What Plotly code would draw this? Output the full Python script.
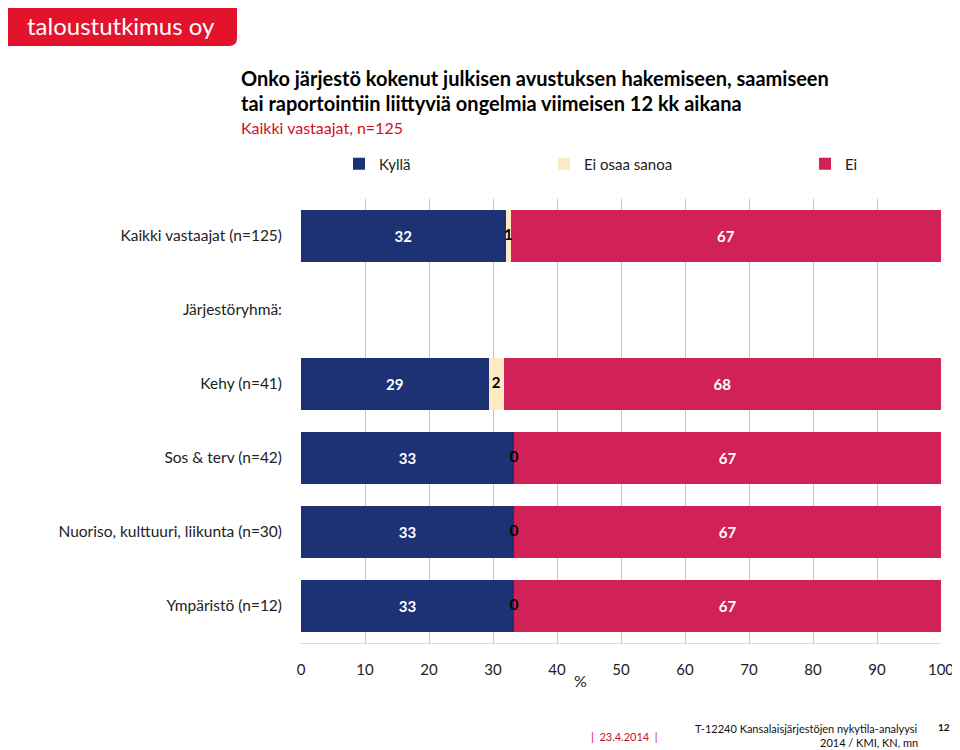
import plotly.graph_objects as go

categories = ["Kaikki vastaajat (n=125)", "Järjestöryhmä:", "Kehy (n=41)",
              "Sos & terv (n=42)", "Nuoriso, kulttuuri, liikunta (n=30)", "Ympäristö (n=12)"]
kylla = [32.0, None, 29.3, 33.3, 33.3, 33.3]
eos = [0.8, None, 2.4, 0.0, 0.0, 0.0]
ei = [67.2, None, 68.3, 66.7, 66.7, 66.7]
kylla_lbl = ["32", "", "29", "33", "33", "33"]
eos_lbl = ["1", "", "2", "0", "0", "0"]
ei_lbl = ["67", "", "68", "67", "67", "67"]
x_ticks = [0, 10, 20, 30, 40, 50, 60, 70, 80, 90, 100]

FONT = "Lato"
NAVY = "#1c3275"
CREAM = "#fcebc2"
CRIMSON = "#d02257"
RED = "#e3132b"

OFF = 8  # page body margin
W, H = 960 - OFF, 750 - OFF
# plot area in page pixels
L, R, T, B = 301, 941, 199, 643


def px(x):
    return (x - L) / (R - L)


def py(y):
    return (B - y) / (B - T)


fig = go.Figure()
fig.add_trace(go.Bar(y=categories, x=kylla, orientation="h", name="Kyllä",
                     marker=dict(color=NAVY, line=dict(width=0)),
                     text=kylla_lbl, textposition="inside", insidetextanchor="middle",
                     textfont=dict(color="white", size=15, family=FONT, weight="bold"),
                     legend="legend", hoverinfo="skip"))
fig.add_trace(go.Bar(y=categories, x=eos, orientation="h", name="Ei osaa sanoa",
                     marker=dict(color=CREAM, line=dict(width=0)),
                     legend="legend2", hoverinfo="skip"))
fig.add_trace(go.Bar(y=categories, x=ei, orientation="h", name="Ei",
                     marker=dict(color=CRIMSON, line=dict(width=0)),
                     text=ei_lbl, textposition="inside", insidetextanchor="middle",
                     textfont=dict(color="white", size=15, family=FONT, weight="bold"),
                     legend="legend3", hoverinfo="skip"))

# labels for "Ei osaa sanoa" placed at segment centers
eos_x = [(k + e / 2) if k is not None else None for k, e in zip(kylla, eos)]
fig.add_trace(go.Scatter(y=categories, x=eos_x, mode="text", text=eos_lbl,
                         textfont=dict(color="black", size=15, family=FONT, weight="bold"),
                         showlegend=False, hoverinfo="skip", cliponaxis=False))

leg_font = dict(size=15, family=FONT, color="#222")
fig.update_layout(
    width=W, height=H,
    margin=dict(l=L - OFF, r=W - (R - OFF), t=T - OFF, b=H - (B - OFF), pad=0,
                autoexpand=False),
    barmode="stack", bargap=0.3,
    plot_bgcolor="white", paper_bgcolor="white",
    font=dict(family=FONT, size=15, color="#222"),
    xaxis=dict(range=[0, 100], tickvals=x_ticks, showgrid=True, gridcolor="#c4c4c4",
               gridwidth=1, zeroline=False, showline=True, linecolor="#dcdcdc",
               automargin=False,
               ticks="", tickfont=dict(size=15, color="#222", family=FONT), ticklabelstandoff=13),
    yaxis=dict(categoryorder="array", categoryarray=categories, autorange="reversed",
               showgrid=False, zeroline=False, ticks="", ticklabelstandoff=18, automargin=False,
               tickfont=dict(size=15.5, color="#222", family=FONT)),
    legend=dict(orientation="h", x=px(339), y=py(164), xanchor="left", yanchor="middle",
                font=leg_font, itemwidth=30, bgcolor="rgba(0,0,0,0)"),
    legend2=dict(orientation="h", x=px(544), y=py(164), xanchor="left", yanchor="middle",
                 font=leg_font, itemwidth=30, bgcolor="rgba(0,0,0,0)"),
    legend3=dict(orientation="h", x=px(805), y=py(164), xanchor="left", yanchor="middle",
                 font=leg_font, itemwidth=30, bgcolor="rgba(0,0,0,0)"),
)

# logo
fig.add_shape(type="path", xref="paper", yref="paper", layer="above",
              path=f"M {px(3)} {py(0)} L {px(237)} {py(0)} L {px(237)} {py(38)} "
                   f"Q {px(237)} {py(46)} {px(229)} {py(46)} L {px(3)} {py(46)} Z",
              fillcolor=RED, line=dict(width=0))
fig.add_annotation(xref="paper", yref="paper", x=px(25), y=py(25), xanchor="left", yanchor="middle",
                   text="taloustutkimus oy", showarrow=False,
                   font=dict(size=24, color="white", family=FONT, weight="normal"))

# titles
fig.add_annotation(xref="paper", yref="paper", x=px(239), y=py(78), xanchor="left", yanchor="middle",
                   text="Onko järjestö kokenut julkisen avustuksen hakemiseen, saamiseen",
                   showarrow=False, font=dict(size=20, color="black", family=FONT, weight="bold"))
fig.add_annotation(xref="paper", yref="paper", x=px(239), y=py(103), xanchor="left", yanchor="middle",
                   text="tai raportointiin liittyviä ongelmia viimeisen 12 kk aikana",
                   showarrow=False, font=dict(size=20, color="black", family=FONT, weight="bold"))
fig.add_annotation(xref="paper", yref="paper", x=px(239), y=py(127), xanchor="left", yanchor="middle",
                   text="Kaikki vastaajat, n=125",
                   showarrow=False, font=dict(size=16, color="#d0101e", family=FONT))

# axis unit
fig.add_annotation(xref="paper", yref="paper", x=px(580), y=py(680), xanchor="center", yanchor="middle",
                   text="%", showarrow=False, font=dict(size=16, color="#222", family=FONT))

# footer
fig.add_annotation(xref="paper", yref="paper", x=px(624), y=py(736), xanchor="center", yanchor="middle",
                   text="|  23.4.2014  |", showarrow=False, font=dict(size=11, color="#c0142b", family=FONT))
fig.add_annotation(xref="paper", yref="paper", x=px(920), y=py(728), xanchor="right", yanchor="middle",
                   text="T-12240 Kansalaisjärjestöjen nykytila-analyysi", showarrow=False,
                   font=dict(size=11, color="#111", family=FONT))
fig.add_annotation(xref="paper", yref="paper", x=px(920), y=py(742), xanchor="right", yanchor="middle",
                   text="2014 / KMI, KN, mn", showarrow=False,
                   font=dict(size=11, color="#111", family=FONT))
fig.add_annotation(xref="paper", yref="paper", x=px(944), y=py(727), xanchor="center", yanchor="middle",
                   text="12", showarrow=False, font=dict(size=10, color="#111", family=FONT, weight="bold"))

fig.write_html("out.html")
